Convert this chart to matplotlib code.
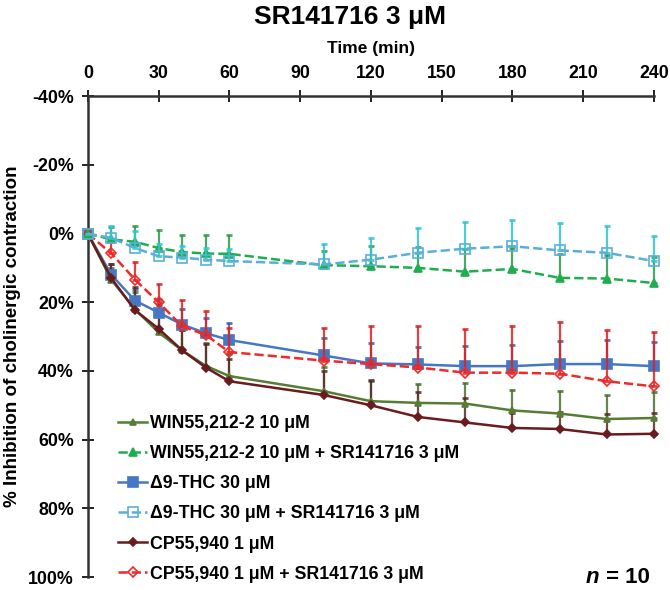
import numpy as np
import matplotlib
matplotlib.use("Agg")
import matplotlib.pyplot as plt

plt.rcParams['font.family'] = ['Liberation Sans', 'DejaVu Sans']
plt.rcParams['font.weight'] = 'bold'

# time points (min)
time = [0, 10, 20, 30, 40, 50, 60, 100, 120, 140, 160, 180, 200, 220, 240]

# % inhibition, mean and (one-sided) SEM
win = [0, 13.5, 22, 28.8, 34, 38.5, 41.5, 45.9, 48.8, 49.3, 49.5, 51.5, 52.4, 54, 53.7]
win_err = [0, 3.5, 5, 6, 6, 6.5, 6.5, 7, 6, 5.6, 6, 5.9, 6.5, 7, 7.7]

win_sr = [0, 1.7, 2.4, 4.2, 5.4, 5.8, 5.9, 9.2, 9.5, 10, 11.1, 10.3, 12.9, 13.1, 14.4]
win_sr_err = [0, 3.5, 4.5, 5.1, 4.9, 5.5, 5.5, 4, 6, 6, 6.5, 6, 7, 7, 7.5]

thc = [0, 12, 19.5, 23, 26.5, 29, 31, 35.5, 37.8, 38.1, 38.6, 38.6, 38, 38, 38.6]
thc_err = [0, 3, 3.5, 4, 4.5, 4.5, 5, 5.2, 5.8, 5, 6, 6.2, 6.6, 7, 7]

thc_sr = [0, 1.3, 4.2, 6.6, 7, 7.6, 8, 9, 7.6, 5.6, 4.4, 3.7, 4.9, 5.6, 8]
thc_sr_err = [0, 3.4, 5, 3.5, 3.5, 3.5, 3.5, 6, 6.3, 7.3, 7.7, 7.6, 8, 7.8, 7.3]

cp = [0, 13, 22.3, 27.7, 34, 39, 43, 47, 50, 53.4, 55, 56.6, 56.9, 58.5, 58.3]
cp_err = [0, 4, 6.7, 7, 6, 6.7, 6.6, 7, 7.3, 7.4, 7, 4.5, 5, 6, 6]

cp_sr = [0, 5.8, 13.4, 20, 27, 29.5, 34.5, 37, 38, 39, 40.5, 40.5, 40.8, 43, 44.5]
cp_sr_err = [0, 3.5, 5, 5.3, 7.6, 7, 7, 9.6, 11, 12, 12.8, 13.5, 15, 14.8, 15.8]

labels = ["WIN55,212-2 10 μM",
          "WIN55,212-2 10 μM + SR141716 3 μM",
          "Δ9-THC 30 μM",
          "Δ9-THC 30 μM + SR141716 3 μM",
          "CP55,940 1 μM",
          "CP55,940 1 μM + SR141716 3 μM"]

x_ticks = [0, 30, 60, 90, 120, 150, 180, 210, 240]
y_ticks = [-40, -20, 0, 20, 40, 60, 80, 100]

fig = plt.figure(figsize=(6.7, 5.9), dpi=100)
ax = fig.add_axes([0.131, 0.022, 0.845, 0.815])


def draw(y, err, color, ecolor, ls, marker, ms, mfc, label, z):
    y = np.array(y)
    err = np.array(err)
    ax.errorbar(time, y, yerr=[err, np.zeros_like(err)], fmt='none',
                ecolor=ecolor, elinewidth=1.6, capsize=2, capthick=2,
                alpha=0.85, zorder=z, clip_on=False)
    ax.plot(time, y, color=color, ls=ls, lw=1.8, marker=marker, ms=ms,
            mfc=mfc, mec=color, mew=1.2, label=label, zorder=z + 0.5,
            clip_on=False)


draw(thc, thc_err, '#4677C4', '#3B5FA0', '-', 's', 7, '#4677C4', labels[2], 3)
draw(win, win_err, '#567D33', '#4E6E30', '-', '^', 5, '#567D33', labels[0], 3)
draw(cp, cp_err, '#6A1B1E', '#5A2A2A', '-', 'D', 4, '#6A1B1E', labels[4], 3)
draw(cp_sr, cp_sr_err, '#EE2A2A', '#E02020', '--', 'D', 5, 'none', labels[5], 4)
draw(win_sr, win_sr_err, '#1FAE4E', '#2A9A4A', '--', '^', 6, '#1FAE4E', labels[1], 4)
draw(thc_sr, thc_sr_err, '#5AAFD8', '#2DC6CF', '--', 's', 7, 'none', labels[3], 5)

ax.set_xlim(0, 240)
ax.set_ylim(100, -40)
ax.xaxis.tick_top()
ax.set_xticks(x_ticks)
ax.set_yticks(y_ticks)
ax.set_yticklabels(["%d%%" % v for v in y_ticks])
ax.tick_params(direction='inout', length=8, width=1.4, labelsize=12.8,
               colors='#222222', pad=6)
for lab in ax.get_xticklabels() + ax.get_yticklabels():
    lab.set_fontweight('bold')
    lab.set_color('black')

for side in ['right', 'bottom']:
    ax.spines[side].set_visible(False)
for side in ['left', 'top']:
    ax.spines[side].set_linewidth(1.8)
    ax.spines[side].set_color('#333333')

ax.set_ylabel("% Inhibition of cholinergic contraction", fontsize=13.5,
              fontweight='bold')
ax.yaxis.set_label_coords(-0.118, 0.5)
ax.xaxis.set_label_position('top')
ax.set_xlabel("Time (min)", fontsize=12.5, fontweight='bold', labelpad=9)
fig.text(0.523, 0.972, "SR141716 3 μM", ha='center', va='center',
         fontsize=19, fontweight='bold')

handles, labs = ax.get_legend_handles_labels()
order = [labs.index(l) for l in labels]
ax.legend([handles[i] for i in order], [labs[i] for i in order],
          loc='lower left', bbox_to_anchor=(0.026, -0.045), frameon=False,
          handlelength=1.6, handletextpad=0.2,
          labelspacing=0.74, prop={'weight': 'bold', 'size': 12.8})

n_txt = ax.text(0.88, -0.022, "n", transform=ax.transAxes, fontsize=16,
                fontweight='bold', style='italic', ha='left', va='bottom')
ax.annotate(" = 10", xy=(1, 0), xycoords=n_txt, va='bottom', fontsize=16,
            fontweight='bold')

fig.savefig("out.png", dpi=100)
